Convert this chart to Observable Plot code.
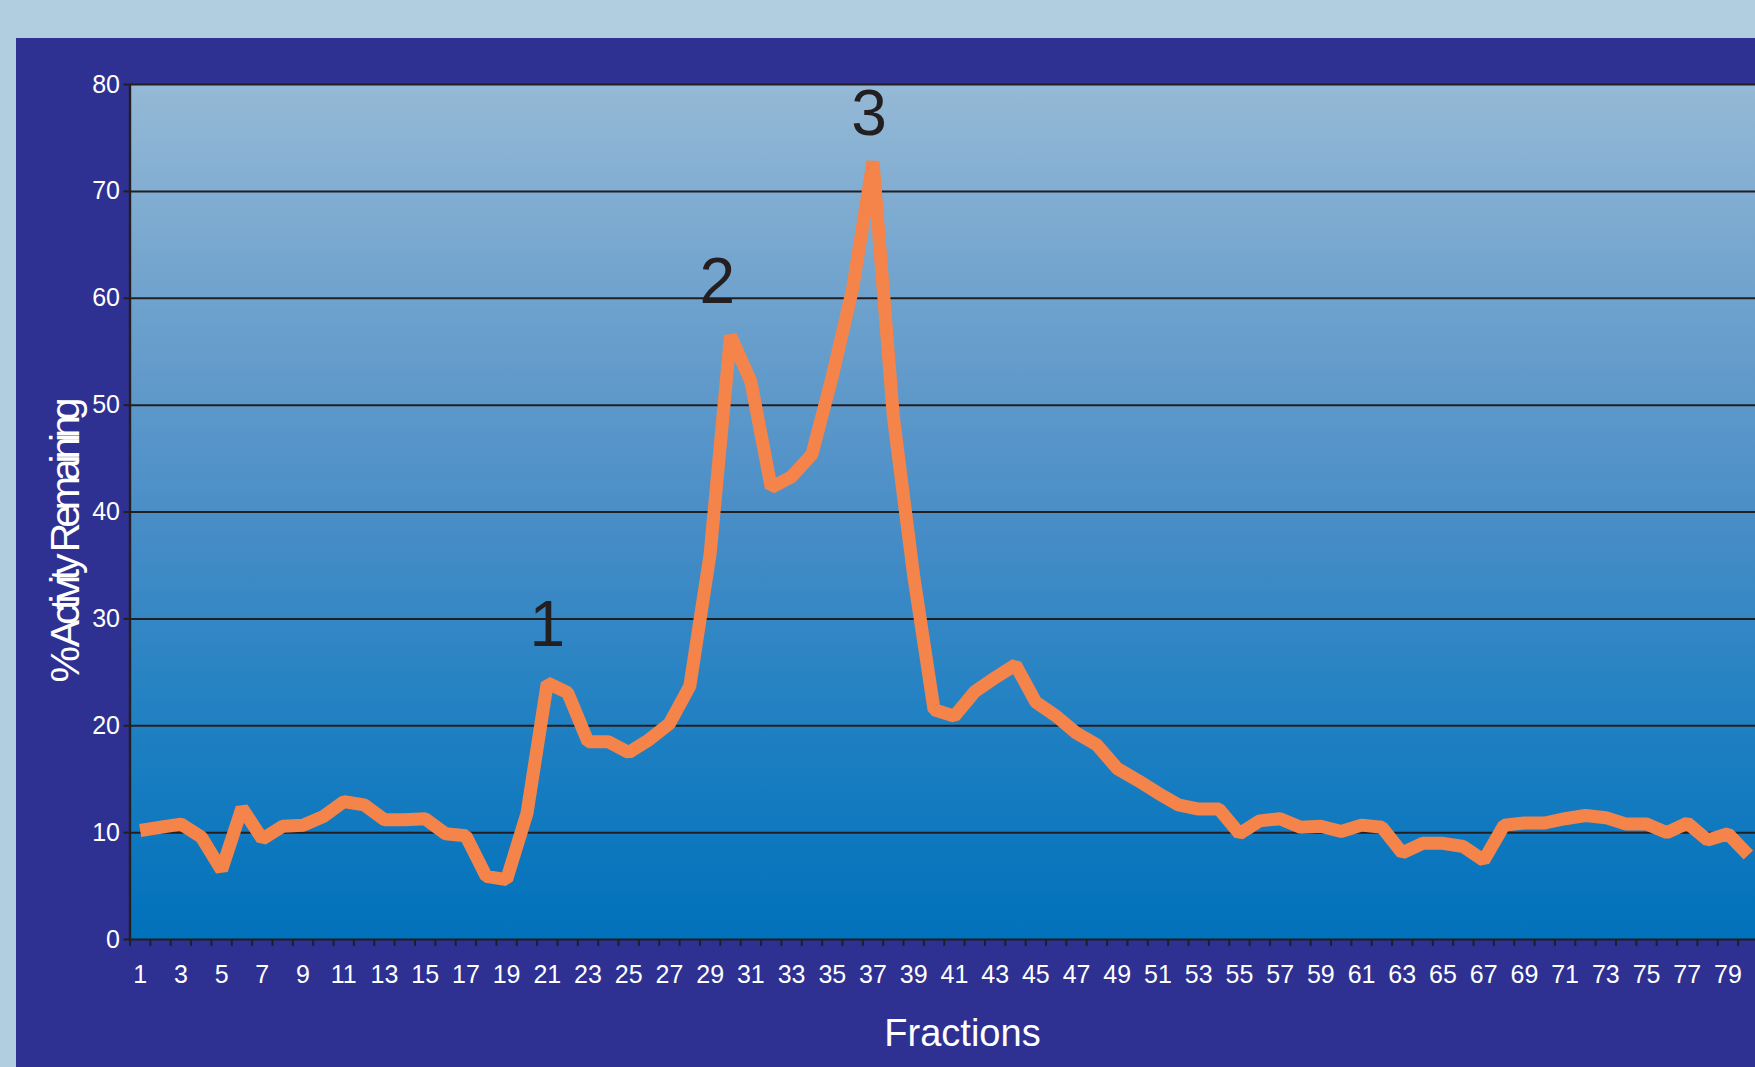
<!DOCTYPE html>
<html><head><meta charset="utf-8">
<script src="https://cdn.jsdelivr.net/npm/d3@7"></script>
<script src="https://cdn.jsdelivr.net/npm/@observablehq/plot@0.6"></script>
<style>
html,body{margin:0;padding:0;background:#b1cde0;overflow:hidden;width:1755px;height:1067px;}
#frame{position:absolute;left:16px;top:38px;right:0;bottom:0;background:#2e3192;}
#chart{position:absolute;left:0;top:0;width:1755px;height:1067px;overflow:hidden;}
</style></head><body><div id="frame"></div><div id="chart"></div>
<script>
const fractions = [1,2,3,4,5,6,7,8,9,10,11,12,13,14,15,16,17,18,19,20,21,22,23,24,25,26,27,28,29,30,31,32,33,34,35,36,37,38,39,40,41,42,43,44,45,46,47,48,49,50,51,52,53,54,55,56,57,58,59,60,61,62,63,64,65,66,67,68,69,70,71,72,73,74,75,76,77,78,79,80];
const activity = [10.2,10.5,10.8,9.6,6.5,12.3,9.4,10.6,10.7,11.5,12.9,12.6,11.2,11.2,11.3,9.9,9.7,5.9,5.6,11.8,
  24.0,23.1,18.5,18.5,17.5,18.7,20.2,23.7,36.1,56.5,52.2,42.3,43.3,45.4,52.7,60.9,72.8,48.9,34.0,21.5,
  20.9,23.2,24.5,25.7,22.2,20.9,19.3,18.2,16.0,14.9,13.7,12.6,12.2,12.2,9.9,11.1,11.3,10.5,10.6,10.1,
  10.7,10.5,8.1,9.0,9.0,8.7,7.4,10.7,10.9,10.9,11.3,11.6,11.4,10.8,10.8,10.0,10.9,9.3,9.9,7.9];
const xTickLabels = [1,3,5,7,9,11,13,15,17,19,21,23,25,27,29,31,33,35,37,39,41,43,45,47,49,51,53,55,57,59,61,63,65,67,69,71,73,75,77,79];
const yTicks = [0,10,20,30,40,50,60,70,80];
const annoLabels = ["1","2","3"];
const annoX = [21.0, 29.35, 36.8];
const annoY = [29.4, 61.5, 77.2];
const xTitle = "Fractions";
const yTitle = "% Activity Remaining";

const data = fractions.map((f, i) => ({fraction: f, activity: activity[i]}));
const bandEdges = [fractions[0] - 0.5, ...fractions.map(f => f + 0.5)];
const annos = annoLabels.map((t, i) => ({t, x: annoX[i], y: annoY[i]}));
const font = "'Liberation Sans', Arial, Helvetica, sans-serif";

const plot = Plot.plot({
  width: 1755, height: 1067,
  marginLeft: 129.5, marginRight: -3, marginTop: 84, marginBottom: 128,
  style: {background: "transparent", fontFamily: font},
  x: {domain: [0.5, 80.5], label: null},
  y: {domain: [0, 80], label: null},
  marks: [
    Plot.frame({fill: "url(#plotGrad)", stroke: "none"}),
    Plot.ruleY(yTicks, {stroke: "#231f20", strokeWidth: 2}),
    Plot.ruleX([0.5], {stroke: "#231f20", strokeWidth: 2.4}),
    Plot.axisY({ticks: yTicks, tickSize: 6, tickFormat: () => "", stroke: "#231f20", strokeWidth: 2, label: null}),
    Plot.axisY({ticks: yTicks, tickSize: 0, tickPadding: 10, fill: "white", fontSize: 25, label: null}),
    Plot.axisX({ticks: bandEdges, tickSize: 7, tickFormat: () => "", stroke: "#231f20", strokeWidth: 2, label: null}),
    Plot.axisX({ticks: xTickLabels, tickSize: 0, tickPadding: 26, fill: "white", fontSize: 25, label: null}),
    Plot.line(data, {x: "fraction", y: "activity", stroke: "#f4844a", strokeWidth: 13, strokeLinejoin: "miter", strokeLinecap: "butt"}),
    Plot.text(annos, {x: "x", y: "y", text: "t", fontSize: 64, fill: "#231f20", lineAnchor: "middle"}),
    Plot.text([xTitle], {frameAnchor: "bottom", dx: 18.25, dy: 94.5, fontSize: 38, fill: "white", lineAnchor: "middle"}),
    Plot.text([yTitle], {frameAnchor: "left", rotate: -90, dx: -64.5, dy: 170.5, textAnchor: "start", fontSize: 41, fill: "white", lineAnchor: "middle"})
  ]
});

d3.select(plot).insert("defs", ":first-child").html(
  `<linearGradient id="plotGrad" x1="0" y1="0" x2="0" y2="1">
     <stop offset="0" stop-color="#95b9d6"/>
     <stop offset="0.25" stop-color="#6fa2cd"/>
     <stop offset="0.5" stop-color="#4a8ec7"/>
     <stop offset="0.75" stop-color="#1f80c2"/>
     <stop offset="1" stop-color="#0071bb"/>
   </linearGradient>`);
d3.select(plot).selectAll("text").filter(function() { return this.textContent === yTitle; })
  .attr("textLength", 285).attr("lengthAdjust", "spacing");
document.getElementById("chart").appendChild(plot);
</script></body></html>
